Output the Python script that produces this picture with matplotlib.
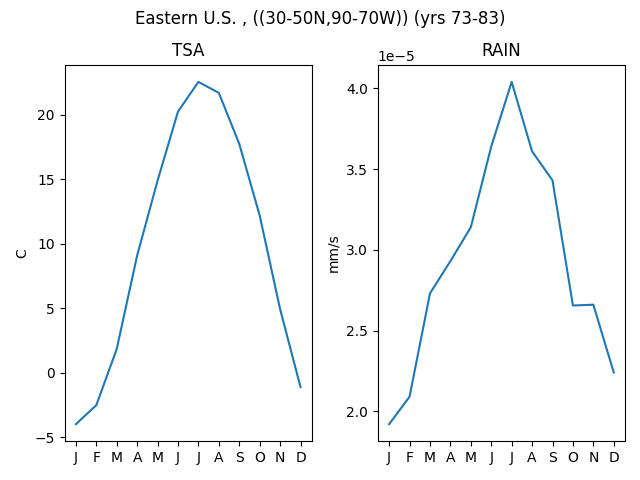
import numpy as np
import matplotlib
matplotlib.use("Agg")
import matplotlib.pyplot as plt

months = ["J", "F", "M", "A", "M", "J", "J", "A", "S", "O", "N", "D"]
tsa = [-3.97, -2.5, 1.85, 9.1, 14.9, 20.25, 22.55, 21.7, 17.75, 12.2, 4.95, -1.1]
rain = [1.92e-5, 2.09e-5, 2.73e-5, 2.93e-5, 3.14e-5, 3.64e-5, 4.04e-5,
        3.61e-5, 3.43e-5, 2.655e-5, 2.66e-5, 2.24e-5]

x = np.arange(len(months))

fig, (ax1, ax2) = plt.subplots(1, 2, figsize=(6.4, 4.8))
fig.suptitle("Eastern U.S. , ((30-50N,90-70W)) (yrs 73-83)", y=0.98)

ax1.plot(x, tsa)
ax1.set_title("TSA")
ax1.set_ylabel("C")
ax1.set_xticks(x)
ax1.set_xticklabels(months)

ax2.plot(x, rain)
ax2.set_title("RAIN")
ax2.set_ylabel("mm/s")
ax2.set_xticks(x)
ax2.set_xticklabels(months)

plt.tight_layout()
plt.subplots_adjust(top=0.865)
plt.savefig("out.png")
plt.close()
